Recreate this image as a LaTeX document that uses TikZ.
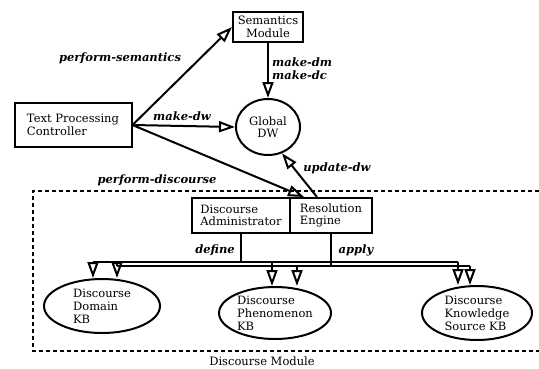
\documentclass[tikz,border=0pt]{standalone}
\usepackage{fontspec}
\setmainfont{DejaVu Serif}
\usetikzlibrary{arrows.meta,shapes.geometric}
\tikzset{
  box/.style={draw,line width=2pt,rectangle,inner sep=3pt,align=left,
    font=\fontsize{11.5}{12.5}\selectfont},
  kb/.style={draw,line width=2pt,ellipse,inner sep=0pt,align=left,
    font=\fontsize{11.5}{13}\selectfont},
  flow/.style={line width=2pt,-{Triangle[open,length=16pt,width=11pt,line width=2pt]}},
  wire/.style={line width=2pt},
  lbl/.style={font=\fontsize{11.5}{13}\selectfont\bfseries\itshape,inner sep=1pt},
  module/.style={line width=2.8pt,dash pattern=on 4pt off 3pt}
}
\begin{document}
\begin{tikzpicture}[x=1pt,y=-1pt]
      \useasboundingbox (0,0) rectangle (539,368);
      \draw
        (268,27) node[box,align=center,minimum width=70pt,minimum height=30pt] (sem){Semantics\\Module}
        (73,125) node[box,minimum width=117pt,minimum height=44pt] (tpc){Text Processing\\Controller}
        (268,127) node[draw,line width=2pt,ellipse,inner sep=0pt,minimum width=64pt,minimum height=56pt,
          align=center,font=\fontsize{11.5}{12.5}\selectfont] (gdw){Global\\DW}
        (241,215.5) node[box,minimum width=98pt,minimum height=35pt] (da){Discourse\\Administrator}
        (331,215.5) node[box,minimum width=82pt,minimum height=35pt] (re){Resolution\\Engine}
        (102,306) node[kb,minimum width=116pt,minimum height=54pt] (kb1){Discourse\\Domain\\KB}
        (275,313) node[kb,minimum width=112pt,minimum height=52pt] (kb2){Discourse\\Phenomenon\\KB}
        (477,313) node[kb,minimum width=110pt,minimum height=54pt] (kb3){Discourse\\Knowledge\\Source KB};
      \draw[module] (539,191) -- (33,191) -- (33,351) -- (539,351);
      \draw
        (262,361) node[font=\fontsize{11.5}{12}\selectfont] (dm){Discourse Module}
        (120,58) node[lbl] (ps){perform-semantics}
        (271,69) node[lbl,anchor=west,align=left] (mk){make-dm\\make-dc}
        (182,116) node[lbl] (mw){make-dw}
        (157,180) node[lbl] (pd){perform-discourse}
        (337,168) node[lbl] (ud){update-dw}
        (215,250) node[lbl] (df){define}
        (356,250) node[lbl] (ap){apply};
      \coordinate (d1) at (93,262);
      \coordinate (d2) at (272,262);
      \coordinate (d3) at (458,262);
      \coordinate (a1) at (117,266);
      \coordinate (a2) at (297,266);
      \coordinate (a3) at (470,266);
      \begin{scope}[flow]
        \draw (tpc.east) to (sem.west);
        \draw (tpc.east) to (gdw.west);
        \draw (sem.south) to (gdw.north);
        \draw (tpc.east) to ([xshift=15pt]re.north west);
        \draw ([xshift=28pt]re.north west) to (gdw.-62);
        \draw (d1) to (d1 |- kb1.north);
        \draw (a1) to (a1 |- kb1.north);
        \draw (d2) to (d2 |- kb2.north);
        \draw (a2) to (a2 |- kb2.north);
        \draw (d3) to (d3 |- kb3.north);
        \draw (a3) to (a3 |- kb3.north);
      \end{scope}
      \begin{scope}[wire]
        \draw (da.south) to (da.south |- d1);
        \draw (re.south) to (re.south |- a1);
        \draw (d1) to (d3);
        \draw (a1) to (a3);
      \end{scope}
    \end{tikzpicture}
\end{document}
